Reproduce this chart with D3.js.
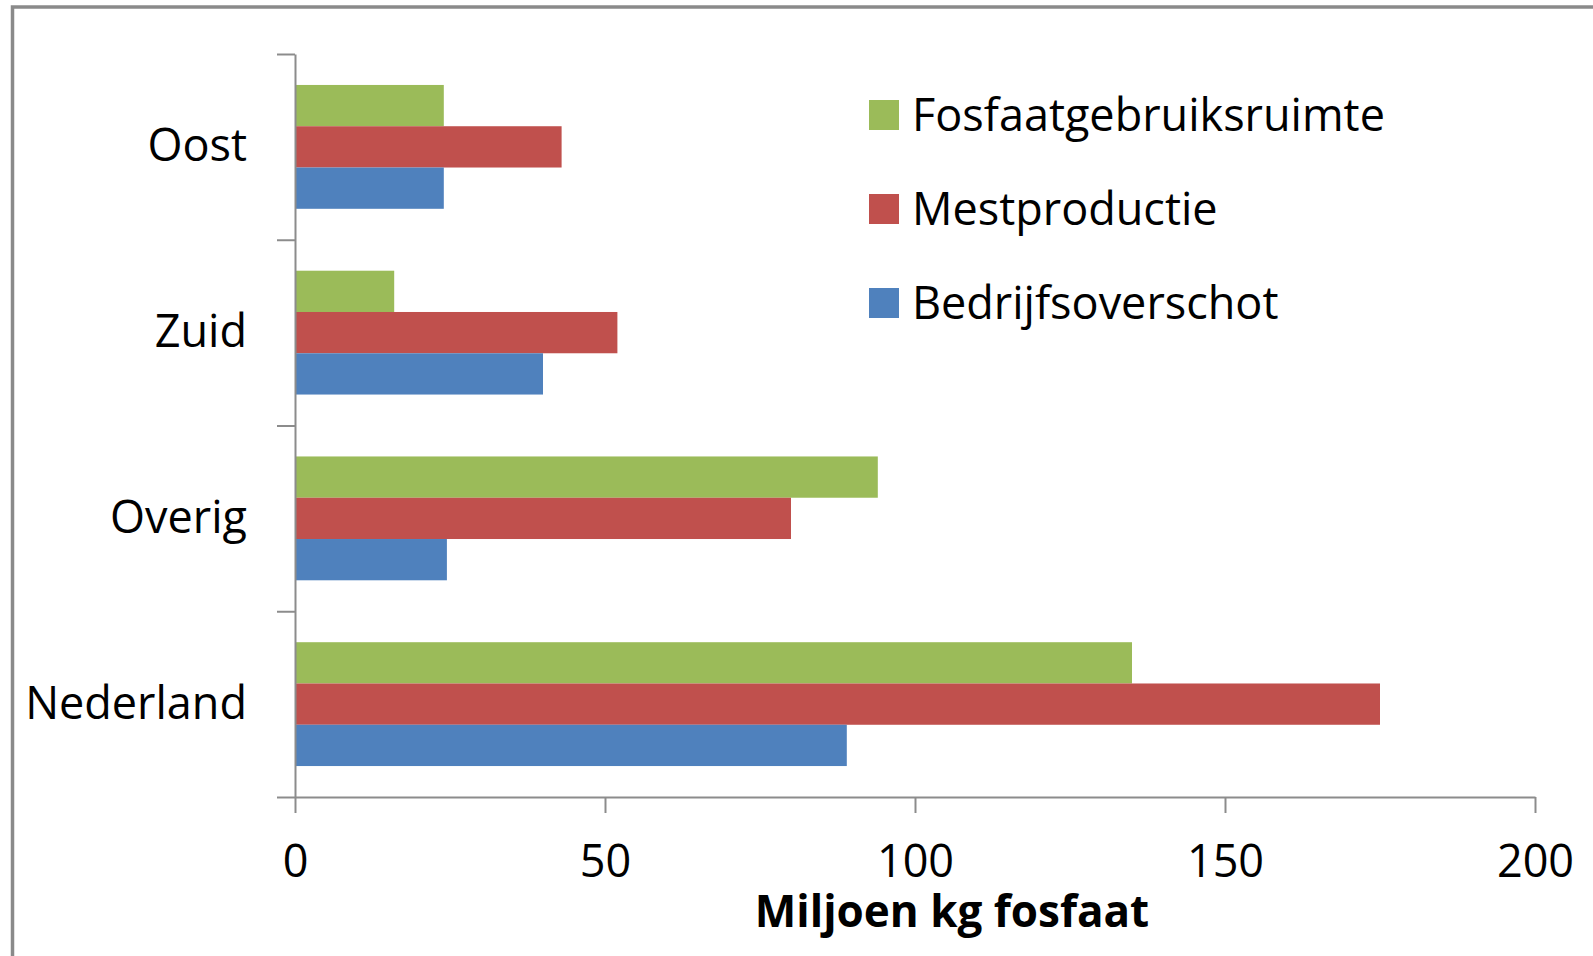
<!DOCTYPE html>
<html>

<head>
  <meta charset="utf-8" />
  <title>Fosfaat</title>
  <style>
    body {
      margin: 0;
      background: #fff;
    }

    text {
      font-family: "Open Sans", sans-serif;
      fill: #000;
    }
  </style>
  <script src="https://cdnjs.cloudflare.com/ajax/libs/d3/7.8.5/d3.min.js"></script>
</head>

<body>
  <div id="chartArea"></div>
  <script>
    var categories = ['Oost', 'Zuid', 'Overig', 'Nederland'];
    var seriesNames = ['Fosfaatgebruiksruimte', 'Mestproductie', 'Bedrijfsoverschot'];
    var fosfaatgebruiksruimte = [24, 16, 94, 135];
    var mestproductie = [43, 52, 80, 175];
    var bedrijfsoverschot = [24, 40, 24.5, 89];
    var xTicks = [0, 50, 100, 150, 200];
    var colors = ['#9BBB59', '#C0504D', '#4F81BD'];

    var w = 1593,
      h = 956;
    var plotLeft = 295, plotRight = 1535, plotTop = 54, plotBottom = 797;
    var fontSize = 45;

    var table = categories.map(function (c, i) {
      return {
        cat: c,
        vals: [fosfaatgebruiksruimte[i], mestproductie[i], bedrijfsoverschot[i]]
      };
    });

    var svg = d3.select('#chartArea').append('svg')
      .attr('width', w)
      .attr('height', h);

    // chart area border (left + top only are visible)
    svg.append('path')
      .attr('d', 'M12.5,956 L12.5,7 L1593,7')
      .attr('fill', 'none')
      .attr('stroke', '#8a8a8a')
      .attr('stroke-width', 3.5);

    var xScale = d3.scaleLinear()
      .domain([0, 200])
      .range([plotLeft, plotRight]);

    var yScale = d3.scaleBand()
      .domain(categories)
      .range([plotTop, plotBottom]);

    // gap width 150% -> 0.75 bar on each side of the group
    var yInner = d3.scaleBand()
      .domain(seriesNames)
      .range([0, yScale.bandwidth()])
      .paddingOuter(0.75);

    var groups = svg.selectAll('g.group')
      .data(table)
      .enter()
      .append('g')
      .attr('class', 'group')
      .attr('transform', d => 'translate(0,' + yScale(d.cat) + ')');

    groups.selectAll('rect')
      .data(d => d.vals.map((v, k) => ({ name: seriesNames[k], v: v, k: k })))
      .enter()
      .append('rect')
      .attr('x', xScale(0))
      .attr('y', d => yInner(d.name))
      .attr('width', d => xScale(d.v) - xScale(0))
      .attr('height', yInner.bandwidth())
      .attr('fill', d => colors[d.k]);

    // x axis
    var xAxis = svg.append('g')
      .attr('transform', 'translate(0,' + plotBottom + ')')
      .call(d3.axisBottom(xScale).tickValues(xTicks).tickSize(16).tickSizeOuter(0).tickPadding(32));
    xAxis.selectAll('path, line').attr('stroke', '#8c8c8c').attr('stroke-width', 2);
    xAxis.selectAll('text').style('font-size', fontSize + 'px').style('font-family', '"Open Sans", sans-serif').attr('fill', '#000');

    // y axis with ticks on category boundaries
    var yLin = d3.scaleLinear().domain([0, categories.length]).range([plotTop, plotBottom]);
    var yAxis = svg.append('g')
      .attr('transform', 'translate(' + plotLeft + ',0)')
      .call(d3.axisLeft(yLin).tickValues(d3.range(categories.length + 1)).tickSize(18).tickSizeOuter(0).tickFormat(''));
    yAxis.selectAll('path, line').attr('stroke', '#8c8c8c').attr('stroke-width', 2);

    // y labels
    var yLabels = svg.append('g')
      .attr('transform', 'translate(' + plotLeft + ',0)')
      .call(d3.axisLeft(yScale).tickSize(0).tickPadding(48));
    yLabels.select('.domain').remove();
    yLabels.selectAll('text').style('font-size', fontSize + 'px').style('font-family', '"Open Sans", sans-serif').attr('fill', '#000');

    // axis title
    svg.append('text')
      .attr('x', 952)
      .attr('y', 927)
      .attr('text-anchor', 'middle')
      .style('font-size', '44px')
      .style('font-weight', 'bold')
      .text('Miljoen kg fosfaat');

    // legend
    var legend = svg.selectAll('g.legend')
      .data(seriesNames)
      .enter()
      .append('g')
      .attr('class', 'legend')
      .attr('transform', (d, i) => 'translate(869,' + (115 + i * 94) + ')');

    legend.append('rect')
      .attr('x', 0)
      .attr('y', -15)
      .attr('width', 30)
      .attr('height', 30)
      .attr('fill', (d, i) => colors[i]);

    legend.append('text')
      .attr('x', 43)
      .attr('y', 0)
      .attr('dy', '0.36em')
      .style('font-size', fontSize + 'px')
      .text(d => d);
  </script>
</body>

</html>
